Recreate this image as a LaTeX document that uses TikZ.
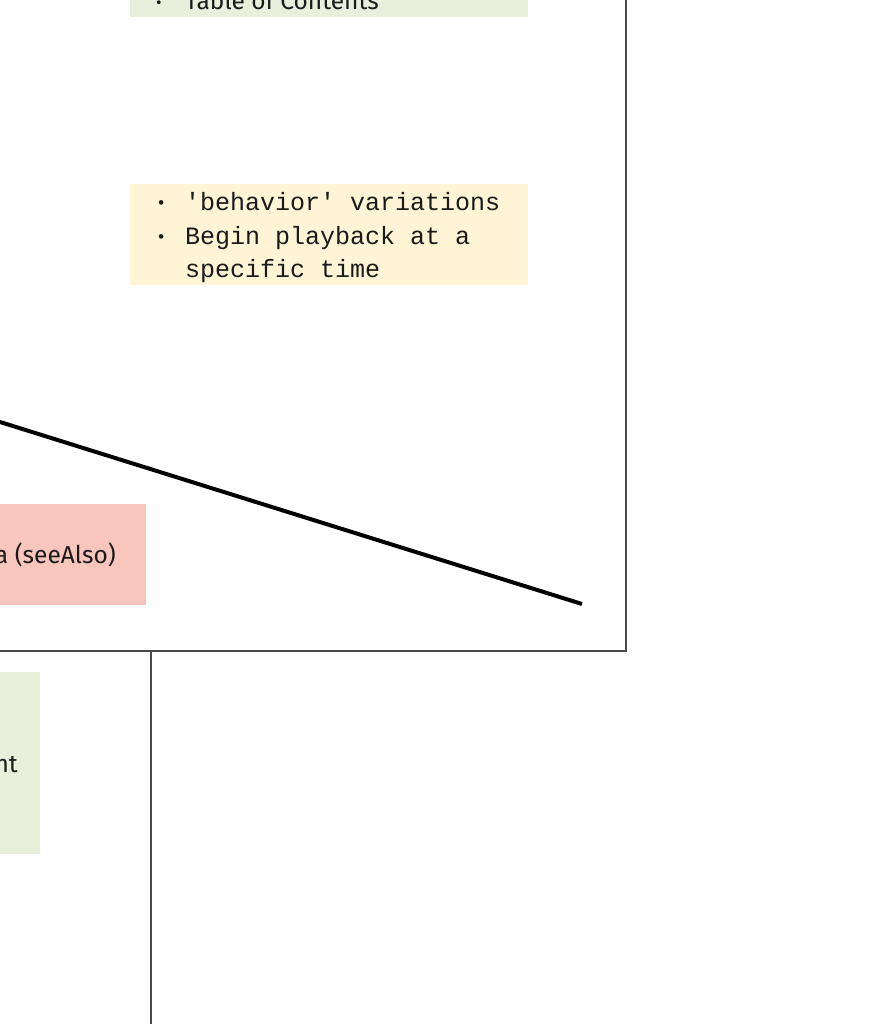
\documentclass[tikz,border=0pt]{standalone}
\usepackage{fontspec}
\setmainfont{Fira Sans}
\setmonofont{Liberation Mono}
\definecolor{boxgreen}{HTML}{E8F0DC}
\definecolor{boxyellow}{HTML}{FFF5D6}
\definecolor{boxred}{HTML}{F9C6BD}
\definecolor{framegray}{HTML}{4A4A4A}
\definecolor{txt}{HTML}{1A1A1A}
\newcommand{\smallbullet}{{\fontsize{17}{20}\selectfont •}}
\begin{document}
\begin{tikzpicture}[x=1pt,y=-1pt,
  sanstext/.style={inner sep=0pt,anchor=base west,text=txt,font=\fontsize{24.5}{28}\selectfont},
  monotext/.style={inner sep=0pt,anchor=base west,text=txt,font=\ttfamily\fontsize{25}{34}\selectfont},
  frameline/.style={draw=framegray,line width=1.1pt},
  link/.style={draw=black,line width=4pt}]
\useasboundingbox (0,0) rectangle (872,1024);
\clip (0,0) rectangle (872,1024);
% outer frame (group)
\draw[frameline] (-50,-50) -- (626,-50) -- (626,651) -- (-50,651);
\draw[frameline] (151,651) -- (151,1080);
% top green box
\fill[boxgreen] (130,-40) rectangle (528,17);
\node[sanstext] (tocb) at (156,9) {\smallbullet};
\node[sanstext] (toc) at (185,10) {Table of Contents};
% yellow box
\fill[boxyellow] (130,184) rectangle (528,285);
\node[monotext] (b1) at (156,209) {\smallbullet};
\node[monotext] (y1) at (185,211) {'behavior' variations};
\node[monotext] (b2) at (156,243) {\smallbullet};
\node[monotext] (y2) at (185,244) {Begin playback at a};
\node[monotext] (y3) at (185,277) {specific time};
% red box
\fill[boxred] (-60,504) rectangle (146,605);
\node[sanstext,anchor=base east] (see) at (116,563) {a (seeAlso)};
% bottom green box
\fill[boxgreen] (-60,672) rectangle (40,854);
\node[sanstext,anchor=base east] (nt) at (18,772) {nt};
% connector
\coordinate (la) at (-30,412.6);
\coordinate (lb) at (582,604);
\draw[link] (la) -- (lb);
\end{tikzpicture}
\end{document}
